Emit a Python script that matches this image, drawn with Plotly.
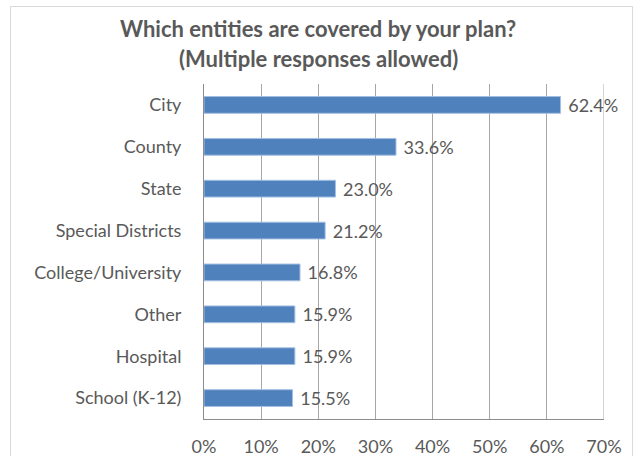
import plotly.graph_objects as go

categories = ["City", "County", "State", "Special Districts", "College/University",
              "Other", "Hospital", "School (K-12)"]
values = [62.4, 33.6, 23.0, 21.2, 16.8, 15.9, 15.9, 15.5]
x_ticks = [0, 10, 20, 30, 40, 50, 60, 70]
x_tick_labels = [f"{v}%" for v in x_ticks]
title_lines = ["Which entities are covered by your plan?", "(Multiple responses allowed)"]

W, H = 634, 456
L, R, T, B = 204, 30, 84, 37
TEXT = "#595959"
FONT = "Lato"

fig = go.Figure(go.Bar(
    y=categories,
    x=values,
    orientation="h",
    marker=dict(color="#4F81BD", line=dict(color="#A4BFE2", width=1)),
    text=[f"\u00a0{v:.1f}%" for v in values],
    textposition="outside",
    constraintext="none",
    textfont=dict(family=FONT, size=18, color=TEXT),
    cliponaxis=False,
    width=0.4,
))

pw, ph = W - L - R, H - T - B

def px_x(p):
    return (p - L) / pw

def px_y(p):
    return (H - B - p) / ph

annotations = [
    dict(text=line, xref="paper", yref="paper", x=px_x(318), y=px_y(yc),
         xanchor="center", yanchor="middle", showarrow=False,
         font=dict(family=FONT, size=22, color=TEXT, weight="bold"))
    for line, yc in zip(title_lines, [28, 58])
]

fig.update_layout(
    width=W, height=H,
    margin=dict(l=L, r=R, t=T, b=B, autoexpand=False),
    paper_bgcolor="white",
    plot_bgcolor="white",
    showlegend=False,
    annotations=annotations,
    xaxis=dict(
        range=[0, 70],
        tickvals=x_ticks,
        ticktext=x_tick_labels,
        showgrid=True, gridcolor="#A6A6A6", gridwidth=1,
        showline=True, linecolor="#8C8C8C", linewidth=1, mirror=False,
        zeroline=False, automargin=False,
        ticks="", ticklabelstandoff=11,
        tickfont=dict(family=FONT, size=18, color=TEXT),
        fixedrange=True,
    ),
    yaxis=dict(
        categoryorder="array",
        categoryarray=categories[::-1],
        showline=True, linecolor="#8C8C8C", linewidth=1,
        showgrid=False, ticks="", ticklabelstandoff=18, automargin=False,
        tickfont=dict(family=FONT, size=18, color=TEXT),
        fixedrange=True,
    ),
    shapes=[
        # chart frame
        dict(type="rect", xref="paper", yref="paper",
             x0=px_x(10.5), x1=px_x(632.5), y0=px_y(470), y1=px_y(6.5),
             line=dict(color="#D9D9D9", width=1), fillcolor="rgba(0,0,0,0)",
             layer="below"),
        # right edge of plot area at 70%
        dict(type="line", xref="x", yref="paper", x0=70, x1=70, y0=0, y1=1,
             line=dict(color="#A6A6A6", width=1)),
    ],
)

fig.write_html("out.html")
